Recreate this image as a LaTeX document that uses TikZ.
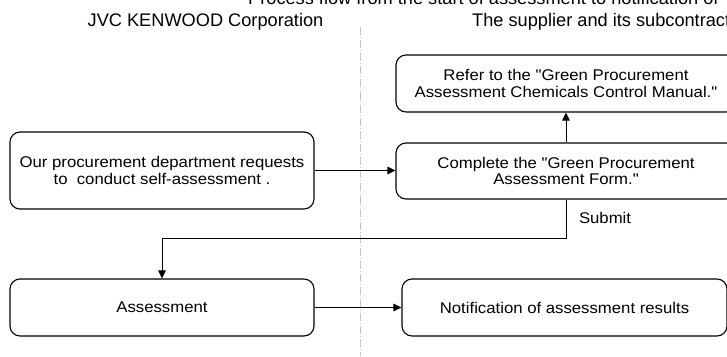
\documentclass[tikz,border=0pt]{standalone}
\usepackage{fontspec}
\setmainfont{Liberation Sans}
\newfontfamily\boxfont[FakeStretch=1.08]{Liberation Sans}
\usetikzlibrary{positioning,arrows.meta}

\begin{document}
\begin{tikzpicture}[x=1pt, y=-1pt,
        stepbox/.style={draw, line width=1.1pt, rounded corners=10pt, align=center, inner sep=0pt, font=\boxfont\fontsize{15.5}{16.5}\selectfont},
        head/.style={inner sep=0pt, font=\fontsize{18.2}{20}\selectfont},
        tag/.style={inner sep=0pt, font=\boxfont\fontsize{15.5}{16.5}\selectfont},
        link/.style={line width=1pt, -{Triangle[length=8pt, width=7.5pt]}},
        lane/.style={line width=1pt, black!22, dash pattern=on 8pt off 2pt on 1pt off 2pt}]
        \useasboundingbox (0,0) rectangle (727,356);
        \clip (0,0) rectangle (727,356);

        % headings
        \node[head, anchor=base west] (title) at (248,5) {Process flow from the start of assessment to notification of};
        \node[head, anchor=base] (jvc) at (205.5,26) {JVC KENWOOD Corporation};
        \node[head, anchor=base west] (supplier) at (472,26.5) {The supplier and its subcontract};

        % lane divider
        \coordinate (laneTop) at (360.5,27);
        \coordinate (laneEnd) at (360.5,356);
        \draw[lane] (laneTop) -- (laneEnd);

        % steps
        \node[stepbox, minimum width=304pt, minimum height=77pt] (request) at (162,170.5) {Our procurement department requests\\to\ \ conduct self-assessment\ .};
        \node[stepbox, minimum width=340pt, minimum height=57pt] (manual) at (566,83.5) {Refer to the "Green Procurement\\Assessment Chemicals Control Manual."};
        \node[stepbox, minimum width=340pt, minimum height=56pt] (form) at (566,171) {Complete the "Green Procurement\\Assessment Form."};
        \node[stepbox, minimum width=304pt, minimum height=57pt] (assess) at (162,307.5) {Assessment};
        \node[stepbox, minimum width=325pt, minimum height=57pt] (notify) at (564.5,307.5) {Notification of assessment results};

        % request -> form
        \draw[link] (request.east) -- (request.east -| form.west);

        % form -> manual
        \draw[link] (form.north) -- (form.north |- manual.south);

        % submit
        \draw[link] (form.south) -- node[tag, right=12.5pt, pos=0.47] (submit) {Submit} ++(0,39) -| (assess.north);

        % assess -> notify
        \draw[link] (assess.east) -- (notify.west);
    \end{tikzpicture}
\end{document}
